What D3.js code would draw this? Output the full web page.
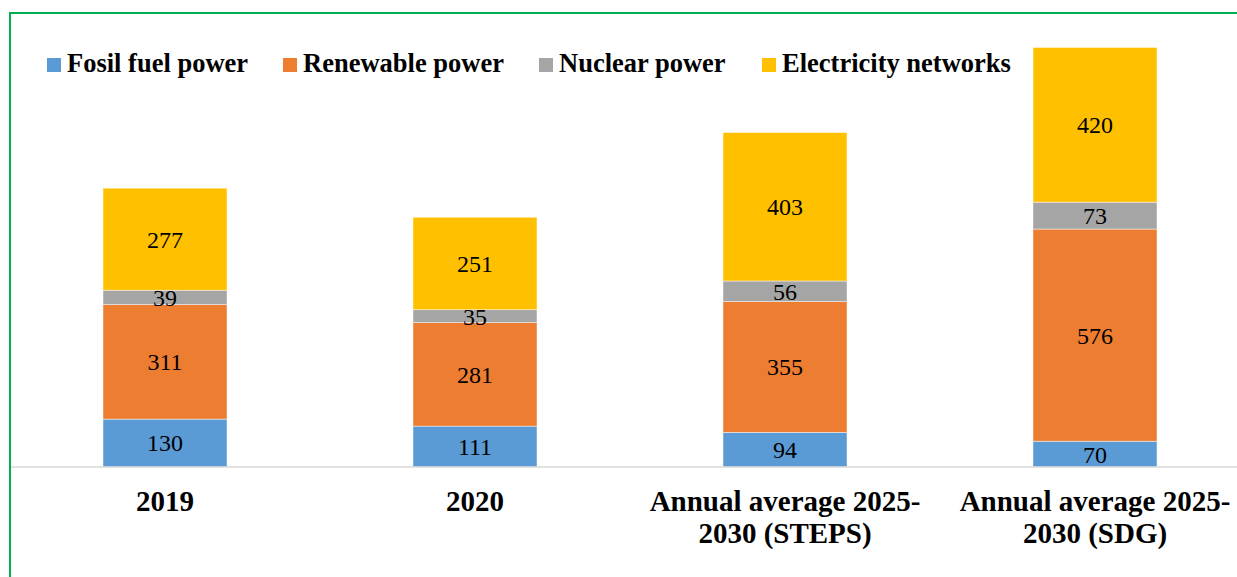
<!DOCTYPE html>
<html>
<head>
<meta charset="utf-8">
<script src="https://cdn.jsdelivr.net/npm/d3@7"></script>
<style>
  html, body { margin: 0; padding: 0; background: #fff; }
  svg { display: block; }
</style>
</head>
<body>
<svg id="chart" width="1237" height="577"></svg>
<script>
const categories = [
  "2019",
  "2020",
  "Annual average 2025-\n2030 (STEPS)",
  "Annual average 2025-\n2030 (SDG)"
];
const seriesNames = ["Fosil fuel power", "Renewable power", "Nuclear power", "Electricity networks"];
const fossil = [130, 111, 94, 70];
const renewable = [311, 281, 355, 576];
const nuclear = [39, 35, 56, 73];
const networks = [277, 251, 403, 420];
const colors = ["#5B9BD5", "#ED7D31", "#A5A5A5", "#FFC000"];

const seriesValues = [fossil, renewable, nuclear, networks];
const rows = categories.map((c, i) => {
  const r = { category: c };
  seriesNames.forEach((s, j) => r[s] = seriesValues[j][i]);
  return r;
});

const svg = d3.select("#chart");
const font = "'Liberation Serif', 'Times New Roman', Times, serif";

// frame
svg.append("rect")
  .attr("x", 10).attr("y", 13)
  .attr("width", 1400).attr("height", 700)
  .attr("fill", "none")
  .attr("stroke", "#00B050")
  .attr("stroke-width", 2);

const x = d3.scaleBand().domain(categories).range([10, 1250]).paddingInner(0.6).paddingOuter(0.3);
const y = d3.scaleLinear().domain([0, 1200]).range([467, 25]);

const stacked = d3.stack().keys(seriesNames)(rows);

const g = svg.append("g");
stacked.forEach((layer, li) => {
  const lg = g.append("g").attr("fill", colors[li]);
  lg.selectAll("rect").data(layer).join("rect")
    .attr("x", d => x(d.data.category))
    .attr("y", d => y(d[1]))
    .attr("width", x.bandwidth())
    .attr("height", d => y(d[0]) - y(d[1]))
    .attr("stroke", "#ffffff")
    .attr("stroke-opacity", 0.6)
    .attr("stroke-width", 0.75);
  lg.selectAll("text").data(layer).join("text")
    .attr("x", d => x(d.data.category) + x.bandwidth() / 2)
    .attr("y", d => (y(d[0]) + y(d[1])) / 2)
    .attr("dy", "0.35em")
    .attr("text-anchor", "middle")
    .attr("font-family", font)
    .attr("font-size", 24)
    .attr("fill", "#000")
    .text(d => d[1] - d[0]);
});

// axis
const axis = svg.append("g")
  .attr("transform", "translate(0,467)")
  .call(d3.axisBottom(x).tickSize(0).tickPadding(0));
axis.select(".domain").remove();
svg.append("line")
  .attr("x1", 11).attr("x2", 1237)
  .attr("y1", 467).attr("y2", 467)
  .attr("stroke", "#D9D9D9").attr("stroke-width", 1.5);
axis.selectAll(".tick text").each(function(d) {
  const t = d3.select(this);
  t.text(null)
    .attr("y", 0)
    .attr("dy", null)
    .attr("font-family", font)
    .attr("font-size", 29)
    .attr("font-weight", "bold")
    .attr("fill", "#000");
  d.split("\n").forEach((line, i) => {
    t.append("tspan").attr("x", 0).attr("y", 44 + i * 32).text(line);
  });
});

// legend
const legendPos = [
  { sx: 47, tx: 67 },
  { sx: 283, tx: 303 },
  { sx: 539, tx: 559 },
  { sx: 762, tx: 782 }
];
const legend = svg.append("g");
seriesNames.forEach((s, i) => {
  legend.append("rect")
    .attr("x", legendPos[i].sx).attr("y", 58)
    .attr("width", 14).attr("height", 14)
    .attr("fill", colors[i]);
  legend.append("text")
    .attr("x", legendPos[i].tx).attr("y", 72)
    .attr("font-family", font)
    .attr("font-size", 26.5)
    .attr("font-weight", "bold")
    .attr("fill", "#000")
    .text(s);
});
</script>
</body>
</html>
